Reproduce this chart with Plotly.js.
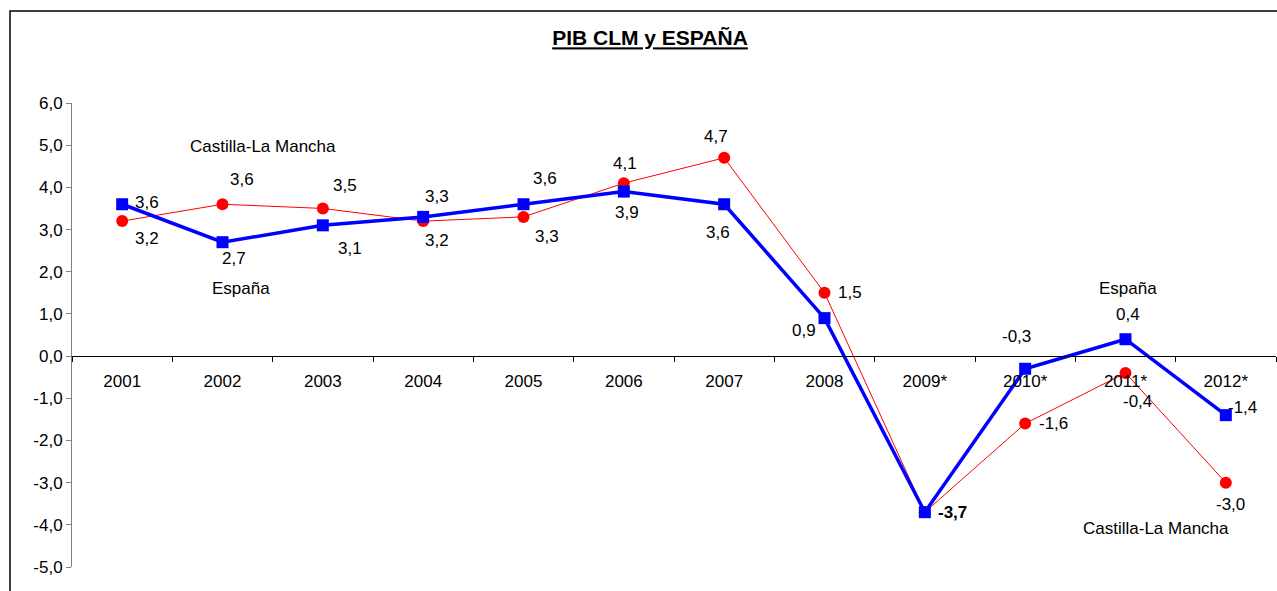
<!DOCTYPE html>
<html>
<head>
<meta charset="utf-8">
<script src="https://cdn.plot.ly/plotly-3.0.1.min.js"></script>
<style>html,body{margin:0;padding:0;background:#fff;}#chart{width:1277px;height:591px;}</style>
</head>
<body>
<div id="chart"></div>
<script>
// ---- data ----
const years = ['2001','2002','2003','2004','2005','2006','2007','2008','2009*','2010*','2011*','2012*'];
const espana = [3.6, 2.7, 3.1, 3.3, 3.6, 3.9, 3.6, 0.9, -3.7, -0.3, 0.4, -1.4];
const clm    = [3.2, 3.6, 3.5, 3.2, 3.3, 4.1, 4.7, 1.5, -3.7, -1.6, -0.4, -3.0];
const yTicks = [-5, -4, -3, -2, -1, 0, 1, 2, 3, 4, 5, 6];

// ---- label placement (pixel offsets, dx right, dy down) ----
const espDx = [25, 11, 27, 14, 21, 3, -6, -21, 28, -9, 2, 17];
const espDy = [-2, 16, 23, -20, -26, 21, 28, 12, 0, -32, -25, -8];
const clmDx = [25, 19, 22, 14, 23, 1, -8, 25, null, 28, 12, 5];
const clmDy = [17, -25, -23, 19, 20, -20, -21, 0, null, 0, 29, 22];

const FONT = 'Liberation Sans, Arial, sans-serif';
const fmt = v => v.toFixed(1).replace('.', ',');

const W = 1277, H = 591;
const margin = {l: 72, r: 1, t: 103, b: 24};
const plotW = W - margin.l - margin.r;
const plotH = H - margin.t - margin.b;
const px2x = p => (p - margin.l) / plotW;
const px2y = p => (H - margin.b - p) / plotH;

const annotations = [];
espana.forEach((v, i) => {
  annotations.push({
    x: i, y: v, xref: 'x', yref: 'y', showarrow: false,
    text: i === 8 ? '<b>' + fmt(v) + '</b>' : fmt(v),
    xshift: espDx[i], yshift: -espDy[i],
    font: {family: FONT, size: 17, color: '#000'}
  });
});
clm.forEach((v, i) => {
  if (clmDx[i] === null) return;
  annotations.push({
    x: i, y: v, xref: 'x', yref: 'y', showarrow: false,
    text: fmt(v),
    xshift: clmDx[i], yshift: -clmDy[i],
    font: {family: FONT, size: 17, color: '#000'}
  });
});
const freeLabels = [
  ['Castilla-La Mancha', 262.5, 146],
  ['España', 241, 288],
  ['España', 1127.5, 288],
  ['Castilla-La Mancha', 1155.5, 528]
];
freeLabels.forEach(([t, px, py]) => {
  annotations.push({
    x: px2x(px), y: px2y(py), xref: 'paper', yref: 'paper', showarrow: false,
    xanchor: 'center', yanchor: 'middle', text: t,
    font: {family: FONT, size: 17, color: '#000'}
  });
});

const traces = [
  {
    x: years, y: clm, type: 'scatter', mode: 'lines+markers', name: 'Castilla-La Mancha',
    line: {color: '#FF0000', width: 1},
    marker: {symbol: 'circle', size: 12, color: '#FF0000'},
    cliponaxis: false
  },
  {
    x: years, y: espana, type: 'scatter', mode: 'lines+markers', name: 'España',
    line: {color: '#0000FF', width: 3.5},
    marker: {symbol: 'square', size: 12, color: '#0000FF'},
    cliponaxis: false
  }
];

const layout = {
  width: W, height: H,
  margin: margin,
  paper_bgcolor: '#fff', plot_bgcolor: '#fff',
  separators: ',.',
  showlegend: false,
  font: {family: FONT, size: 17, color: '#000'},
  title: {
    text: '<u><b>PIB CLM y ESPAÑA</b></u>',
    font: {family: FONT, size: 21, color: '#000'},
    x: 650 / W, xref: 'container', xanchor: 'center',
    y: 1 - 38 / H, yref: 'container', yanchor: 'middle'
  },
  xaxis: {
    type: 'category',
    categoryorder: 'array', categoryarray: years,
    range: [-0.5, years.length - 0.5],
    anchor: 'free', position: 5 / 11,
    showline: true, linecolor: '#000', linewidth: 1,
    ticks: 'outside', tickson: 'boundaries', ticklen: 5, tickcolor: '#000', tickwidth: 1,
    ticklabelstandoff: 10,
    showgrid: false, zeroline: false,
    tickfont: {family: FONT, size: 17, color: '#000'}
  },
  yaxis: {
    range: [-5, 6],
    tickvals: yTicks,
    ticktext: yTicks.map(fmt),
    showline: true, linecolor: '#808080', linewidth: 1,
    ticks: 'outside', ticklen: 5, tickcolor: '#808080', tickwidth: 1,
    showgrid: false, zeroline: false,
    tickfont: {family: FONT, size: 17, color: '#000'}
  },
  annotations: annotations,
  shapes: [{
    type: 'rect', xref: 'paper', yref: 'paper',
    x0: px2x(10), x1: px2x(1300), y0: px2y(620), y1: px2y(11),
    line: {color: '#000', width: 1.5}, fillcolor: 'rgba(0,0,0,0)', layer: 'below'
  }]
};

Plotly.newPlot('chart', traces, layout, {displayModeBar: false, staticPlot: true});
</script>
</body>
</html>
